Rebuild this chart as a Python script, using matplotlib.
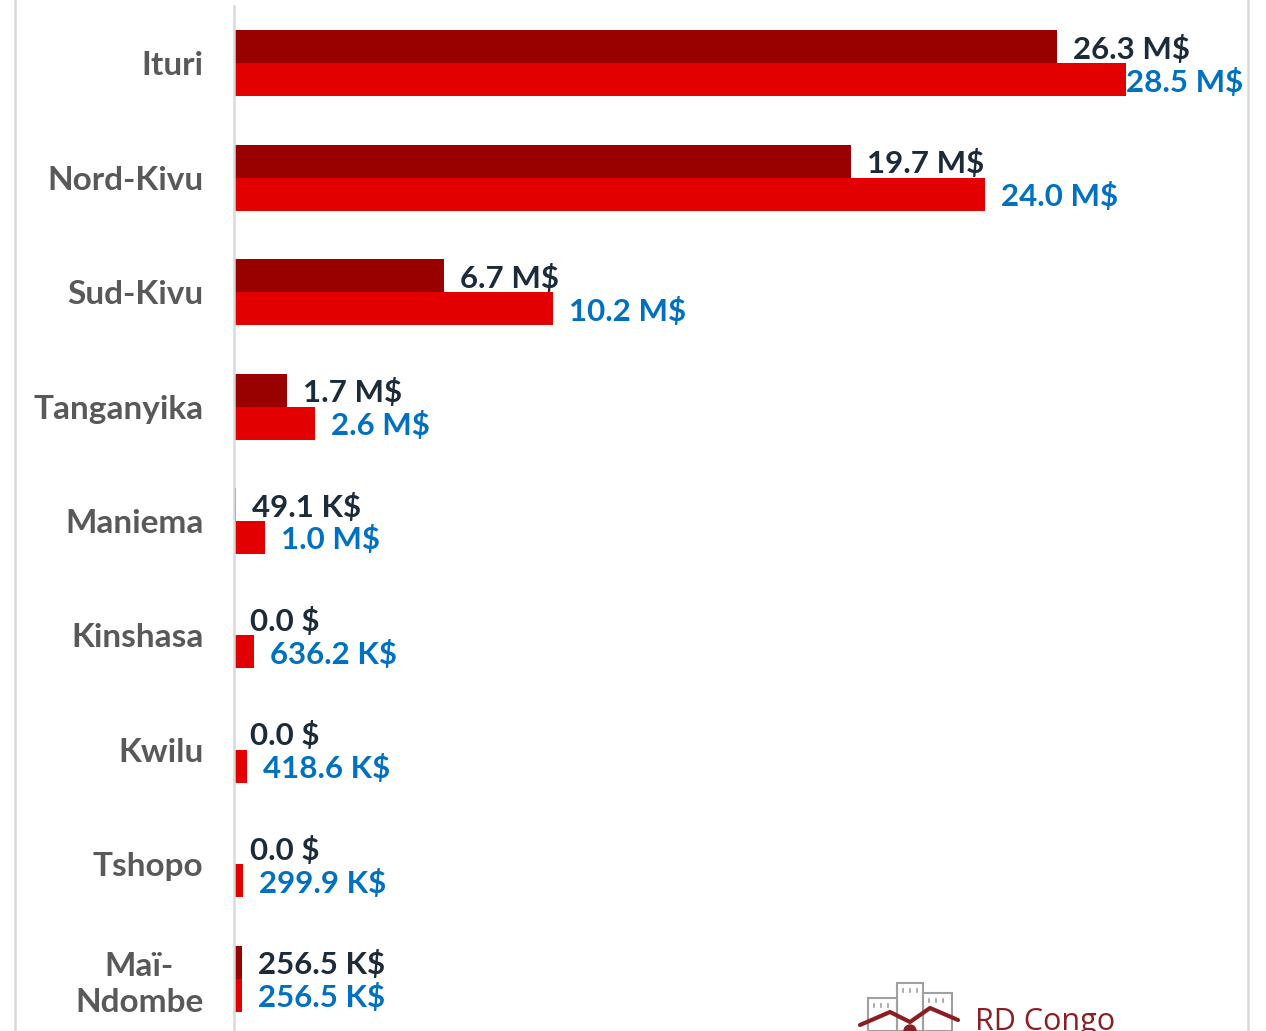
import matplotlib.pyplot as plt
from matplotlib.lines import Line2D
from matplotlib.patches import Rectangle, Circle
import numpy as np

# Data (values in $)
provinces = ['Ituri', 'Nord-Kivu', 'Sud-Kivu', 'Tanganyika', 'Maniema',
             'Kinshasa', 'Kwilu', 'Tshopo', 'Maï-\nNdombe']
montant_1 = [26.3e6, 19.7e6, 6.7e6, 1.7e6, 49.1e3, 0.0, 0.0, 0.0, 256.5e3]
montant_2 = [28.5e6, 24.0e6, 10.2e6, 2.6e6, 1.0e6, 636.2e3, 418.6e3, 299.9e3, 256.5e3]

DARK_RED = '#990000'
RED = '#E30000'
DARK_TEXT = '#1C2B39'
BLUE_TEXT = '#0070C0'
GRID_GRAY = '#D9D9D9'

W, H = 1266, 1031


def fmt_value(v):
    """Format a value the Power BI way"""
    if v >= 1e6:
        return f"{v / 1e6:.1f} M$"
    if v >= 1e3:
        return f"{v / 1e3:.1f} K$"
    return f"{v:.1f} $"


fig = plt.figure(figsize=(W / 100, H / 100), dpi=100)
fig.patch.set_facecolor('white')

# Main axes
ax_left, ax_right = 234, 1248
ax = fig.add_axes([ax_left / W, -5 / H, (ax_right - ax_left) / W, 1030 / H])

y = np.arange(len(provinces))
bar_h = 0.288
ax.barh(y - bar_h / 2, montant_1, height=bar_h, color=DARK_RED, edgecolor='none')
ax.barh(y + bar_h / 2, montant_2, height=bar_h, color=RED, edgecolor='none')

px_per_unit = 892 / 28.5e6
ax.set_xlim(0, (ax_right - ax_left) / px_per_unit)
ax.set_ylim(len(provinces) - 0.5, -0.5)

ax.set_yticks(y)
ax.set_yticklabels(provinces, fontsize=24, fontweight='bold', color='#595959',
                   family='Lato', linespacing=1.27, multialignment='center')
ax.tick_params(axis='y', length=0, pad=22)
ax.set_xticks([])
for side in ['top', 'right', 'bottom']:
    ax.spines[side].set_visible(False)
ax.spines['left'].set_color(GRID_GRAY)
ax.spines['left'].set_linewidth(1.8)

# Data labels
labels = []
for i in range(len(provinces)):
    a1 = ax.annotate(fmt_value(montant_1[i]), xy=(montant_1[i], i - bar_h / 2),
                     xytext=(11.5, 0), textcoords='offset points', ha='left',
                     va='center_baseline', fontsize=22.5, fontweight='bold',
                     color=DARK_TEXT, family='Lato')
    a2 = ax.annotate(fmt_value(montant_2[i]), xy=(montant_2[i], i + bar_h / 2),
                     xytext=(11.5, 0), textcoords='offset points', ha='left',
                     va='center_baseline', fontsize=22.5, fontweight='bold',
                     color=BLUE_TEXT, family='Lato')
    labels.extend([a1, a2])

# Pull labels back inside if they overflow the frame
fig.canvas.draw()
renderer = fig.canvas.get_renderer()
for ann in labels:
    bb = ann.get_window_extent(renderer)
    if bb.x1 > ax_right - 4:
        ann.xyann = (0, 0)

# Frame lines
fig.add_artist(Line2D([15 / W, 15 / W], [0, 1], color=GRID_GRAY, lw=1.8))
fig.add_artist(Line2D([1248 / W, 1248 / W], [0, 1], color=GRID_GRAY, lw=1.8))

# Logo (bottom right, cut by the frame like in the report)
logo = fig.add_axes([850 / W, 0, 280 / W, 60 / H])
logo.set_xlim(850, 1130)
logo.set_ylim(1031, 971)
logo.axis('off')
for (x0, top, w) in [(868, 998, 29), (897, 983, 26), (923, 993, 29)]:
    logo.add_patch(Rectangle((x0, top), w, 1031 - top, fill=False,
                             edgecolor='#A0A0A0', lw=1.5))
    for wx in np.arange(x0 + 6, x0 + w - 3, 7):
        logo.plot([wx, wx], [top + 6, top + 9], color='#A0A0A0', lw=1.2)
logo.plot([860, 890, 910, 930, 958], [1025, 1012, 1022, 1008, 1020],
          color='#8B1E23', lw=3, solid_capstyle='round')
logo.add_patch(Circle((910, 1031), 6, color='#8B1E23'))
logo.text(975, 1030, 'RD Congo', fontsize=22, color='#8B1E23', family='Open Sans',
          ha='left', va='baseline')

plt.savefig('out.png', dpi=100)
plt.close()
